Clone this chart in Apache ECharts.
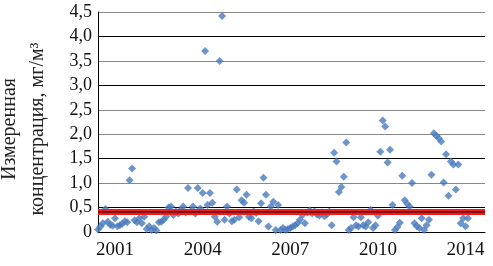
<!DOCTYPE html>
<html><head><meta charset="utf-8">
<script src="https://cdn.jsdelivr.net/npm/echarts@6/dist/echarts.min.js"></script>
<style>html,body{margin:0;padding:0;background:#fff}#c{width:493px;height:266px}</style>
</head><body><div id="c"></div>
<script>
const values = [
0.05,0.11,0.18,0.47,0.21,0.15,0.13,0.28,0.12,0.14,
0.17,0.22,0.20,1.06,1.30,0.24,0.20,0.28,0.18,0.31,
0.06,0.12,0.04,0.08,0.03,0.20,0.21,0.25,0.31,0.50,
0.52,0.35,0.42,0.38,0.45,0.52,0.40,0.90,0.42,0.52,
0.38,0.90,0.48,0.80,3.70,0.55,0.80,0.60,0.31,0.21,
3.50,4.42,0.25,0.52,0.38,0.22,0.25,0.87,0.30,0.65,
0.60,0.76,0.31,0.28,0.42,0.39,0.22,0.59,1.11,0.76,
0.11,0.52,0.62,0.04,0.55,0.04,0.08,0.04,0.06,0.08,
0.11,0.14,0.18,0.25,0.35,0.18,0.40,0.44,0.38,0.42,
0.36,0.34,0.40,0.32,0.36,0.42,0.14,1.62,1.44,0.82,
0.92,1.13,1.83,0.04,0.08,0.30,0.14,0.11,0.30,0.14,
0.11,0.20,0.45,0.08,0.14,0.33,1.64,2.28,2.16,1.42,
1.68,0.55,0.04,0.10,0.19,1.15,0.65,0.58,0.52,1.00,
0.18,0.12,0.08,0.28,0.04,0.14,0.25,1.17,2.02,1.97,
1.92,1.85,1.01,1.59,0.74,1.44,1.38,0.87,1.38,0.18,
0.28,0.12,0.28
];
const monthCount = 160;
const limitValue = 0.41;
const tickIndices = [7, 43, 79, 115, 151];
const tickLabels = ['2001', '2004', '2007', '2010', '2014'];

const categories = [];
for (let i = 0; i < monthCount; i++) categories.push(String(i));
const limitData = categories.map(() => limitValue);

const chart = echarts.init(document.getElementById('c'), null, {renderer: 'canvas'});
chart.setOption({
  animation: false,
  backgroundColor: '#fff',
  grid: {left: 98, right: 8, top: 12, bottom: 34, containLabel: false},
  xAxis: {
    type: 'category', data: categories, boundaryGap: false,
    axisLine: {show: true, lineStyle: {color: '#000', width: 1}},
    axisTick: {show: false},
    splitLine: {show: false},
    axisLabel: {
      interval: (idx) => tickIndices.indexOf(idx) >= 0,
      formatter: (val, idx) => { const k = tickIndices.indexOf(Number(val)); return k >= 0 ? tickLabels[k] : ''; },
      fontFamily: 'Liberation Serif', fontSize: 19, color: '#111', margin: 9
    }
  },
  yAxis: {
    type: 'value', min: 0, max: 4.5, interval: 0.5,
    axisLine: {show: true, lineStyle: {color: '#000', width: 1}},
    axisTick: {show: false},
    splitLine: {show: true, lineStyle: {color: ['#000','#000','#888','#000','#888','#888','#000','#888','#000','#888'], width: 1}},
    axisLabel: {
      formatter: (v) => v === 0 ? '0' : v.toFixed(1).replace('.', ','),
      fontFamily: 'Liberation Serif', fontSize: 18, color: '#111', margin: 6
    }
  },
  graphic: [{
    type: 'text', x: 24, y: 129, rotation: Math.PI / 2,
    style: {
      text: 'Измеренная\nконцентрация, мг/м³',
      font: '20px "Liberation Serif"', fill: '#222',
      align: 'center', verticalAlign: 'middle', lineHeight: 28
    }
  }],
  series: [
    {
      type: 'scatter', data: values, symbol: 'diamond', symbolSize: 8,
      itemStyle: {color: '#4a7bbd'}, z: 2
    },
    {
      type: 'line', data: limitData, symbol: 'none', silent: true,
      lineStyle: {color: '#ee1c1c', width: 6}, z: 3
    },
    {
      type: 'line', data: limitData, symbol: 'none', silent: true,
      lineStyle: {color: '#000', width: 1}, z: 4
    }
  ]
});
</script></body></html>
